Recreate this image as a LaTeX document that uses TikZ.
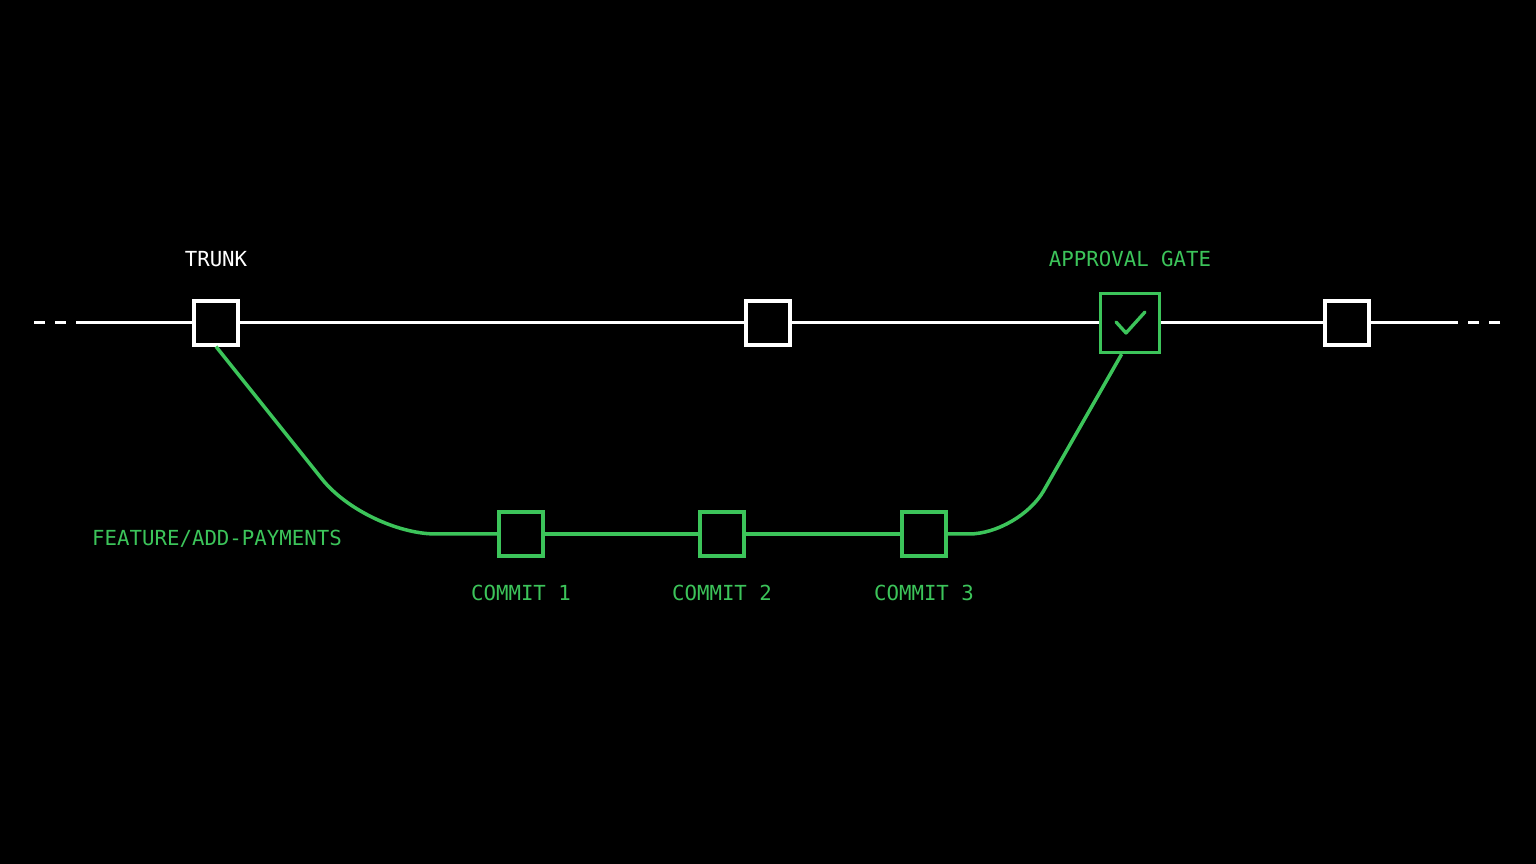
\documentclass[tikz,border=0pt]{standalone}
\usepackage{fontspec}
\setmonofont{DejaVu Sans Mono}
\usepackage{tikz}
\usetikzlibrary{positioning, calc}
\definecolor{gitgreen}{HTML}{3CC45A}
\tikzstyle{trunkbox} = [draw=white,fill=black,line width=0.9pt,minimum size=0.44cm,inner sep=0pt]
\tikzstyle{commitbox} = [draw=gitgreen,fill=black,line width=0.95pt,minimum size=0.44cm,inner sep=0pt]
\tikzstyle{gatebox} = [draw=gitgreen,fill=black,line width=0.95pt,minimum size=0.59cm,inner sep=0pt]
\tikzstyle{trunkline} = [white,line width=0.85pt]
\tikzstyle{branchline} = [gitgreen,line width=1pt]
\tikzstyle{lbl} = [font=\ttfamily\fontsize{5.9}{7}\selectfont,inner sep=0pt]

\begin{document}
\begin{tikzpicture}[node distance=1cm,on grid]
	\fill[black] (0,0) rectangle (15.36,8.64);
	% trunk
	\node[trunkbox] at (2.16,5.41) (t_1) {};
	\node[trunkbox][right=5.52cm of t_1] (t_2) {};
	\node[gatebox][right=3.62cm of t_2] (gate) {};
	\node[trunkbox][right=2.17cm of gate] (t_4) {};
	\coordinate (l_a) at (0.34,5.41);
	\coordinate (l_b) at (0.76,5.41);
	\coordinate (r_a) at (14.58,5.41);
	\coordinate (r_b) at (15.00,5.41);
	% feature branch
	\node[commitbox] at (5.21,3.30) (c_1) {};
	\node[commitbox][right=2.01cm of c_1] (c_2) {};
	\node[commitbox][right=2.02cm of c_2] (c_3) {};
	\coordinate (b_in) at (3.66,3.30);
	\coordinate (b_out) at (10.19,3.30);
	% labels
	\node[lbl,white][above=0.64cm of t_1] (trunk_lbl) {TRUNK};
	\node[lbl,gitgreen][above=0.64cm of gate] (gate_lbl) {APPROVAL GATE};
	\node[lbl,gitgreen][left=3.04cm of c_1,yshift=-0.05cm] (branch_lbl) {FEATURE/ADD-PAYMENTS};
	\node[lbl,gitgreen][below=0.59cm of c_1] (c_1_lbl) {COMMIT 1};
	\node[lbl,gitgreen][below=0.59cm of c_2] (c_2_lbl) {COMMIT 2};
	\node[lbl,gitgreen][below=0.59cm of c_3] (c_3_lbl) {COMMIT 3};
	% lines
	\draw[trunkline,dash pattern=on 0.11cm off 0.1cm] (l_a) -- (l_b);
	\draw[trunkline,dash pattern=on 0.11cm off 0.1cm] (r_b) -- (r_a);
	\draw[trunkline] (l_b) -- (t_1) -- (t_2) -- (gate) -- (t_4) -- (r_a);
	\draw[branchline,rounded corners=0.7cm] (t_1.south) -- (b_in) -- (c_1.west);
	\draw[branchline] (c_1) -- (c_2) -- (c_3);
	\draw[branchline,rounded corners=0.5cm] (c_3.east) -- (b_out) -- (gate.-105);
	% check mark
	\draw[gitgreen,line width=0.95pt,line cap=round,line join=round]
		($(gate)+(-0.14,0.01)$) -- ($(gate)+(-0.04,-0.10)$) -- ($(gate)+(0.15,0.11)$);
\end{tikzpicture}
\end{document}
